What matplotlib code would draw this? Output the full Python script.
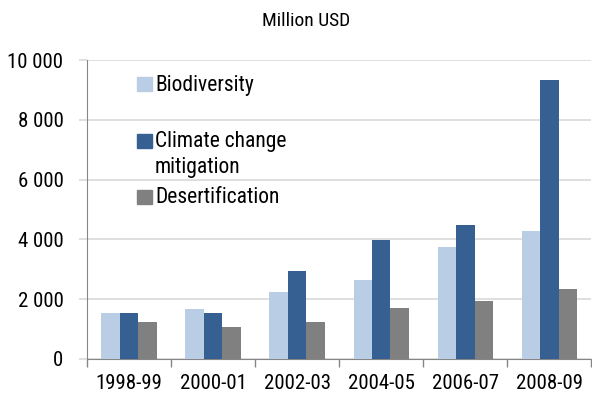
import numpy as np
import matplotlib
matplotlib.use("Agg")
import matplotlib.pyplot as plt
from matplotlib.patches import Rectangle

# Funding by Rio marker, million USD
periods = ["1998-99", "2000-01", "2002-03", "2004-05", "2006-07", "2008-09"]
biodiversity = [1550, 1660, 2240, 2640, 3735, 4270]
climate_mitigation = [1550, 1550, 2950, 3980, 4470, 9330]
desertification = [1250, 1060, 1250, 1700, 1940, 2340]

series_names = ["Biodiversity", "Climate change\nmitigation", "Desertification"]
series_colors = ["#B9CDE5", "#366092", "#808080"]

plt.rcParams["font.family"] = ["Roboto Condensed", "Liberation Sans", "DejaVu Sans"]

fig = plt.figure(figsize=(5.92, 3.98), dpi=100)
ax = fig.add_axes([0.147, 0.098, 0.852, 0.751])

x = np.arange(len(periods))
width = 0.22
all_series = [biodiversity, climate_mitigation, desertification]
for i, (vals, col) in enumerate(zip(all_series, series_colors)):
    ax.bar(x + (i - 1) * width, vals, width, color=col, zorder=3)

ax.set_xlim(-0.5, len(periods) - 0.5)
ax.set_ylim(0, 10000)
ax.set_yticks(np.arange(0, 10001, 2000))
ax.set_yticklabels(["0", "2 000", "4 000", "6 000", "8 000", "10 000"], fontsize=15)
ax.yaxis.grid(True, color="#D9D9D9", linewidth=1.2, zorder=0)

# category labels centred, tick marks on group boundaries
ax.set_xticks(x)
ax.set_xticklabels(periods, fontsize=15)
ax.tick_params(axis="x", length=0, pad=11)
ax.set_xticks(np.arange(-0.5, len(periods), 1.0), minor=True)
ax.tick_params(axis="x", which="minor", length=6, color="#868686", width=1)
ax.tick_params(axis="y", length=6, color="#D9D9D9", width=1.2, pad=11)

for side in ["top", "right"]:
    ax.spines[side].set_visible(False)
ax.spines["left"].set_color("#868686")
ax.spines["bottom"].set_color("#868686")

fig.text(0.517, 0.948, "Million USD", ha="center", va="center", fontsize=14)

# legend entries spaced evenly, text aligned to the first line
for k, (name, col) in enumerate(zip(series_names, series_colors)):
    yc = 0.918 - k * 0.188
    ax.add_patch(Rectangle((0.099, yc - 0.023), 0.03, 0.047, transform=ax.transAxes,
                           color=col, clip_on=False, zorder=4))
    ax.text(0.135, yc + 0.033, name, transform=ax.transAxes, va="top", ha="left",
            fontsize=15.5, linespacing=1.3, zorder=4)

fig.savefig("out.png", dpi=100)
